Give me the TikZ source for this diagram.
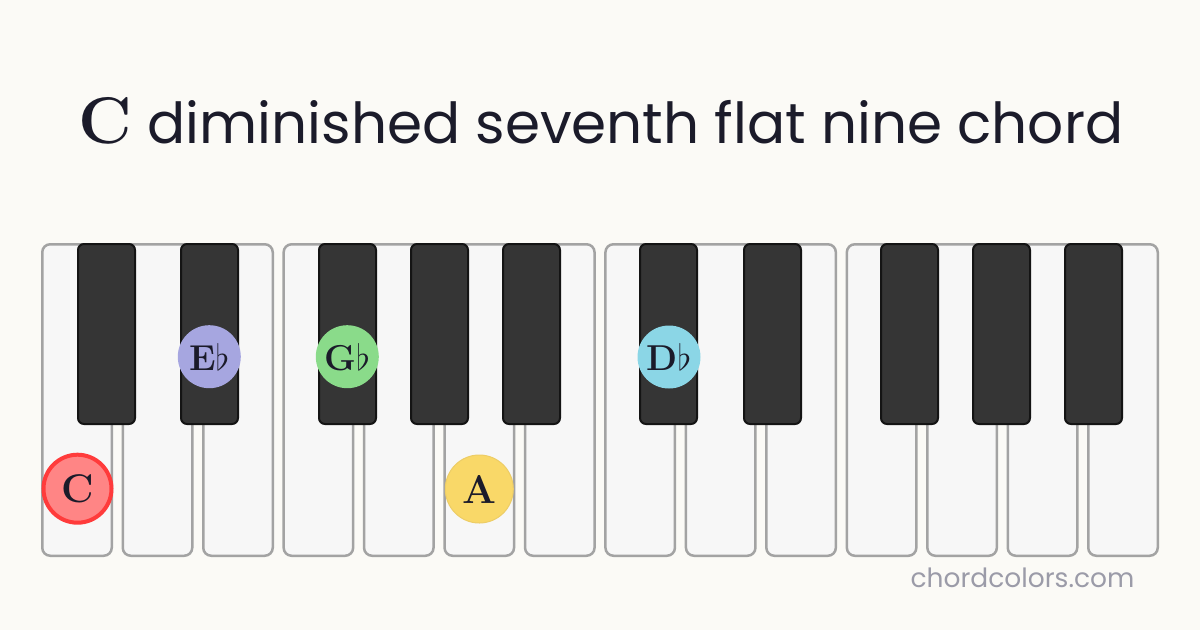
\documentclass[tikz,border=0pt]{standalone}
\usepackage{graphicx}
\usepackage{fontspec}
\newfontfamily\titlefont{Poppins}
\definecolor{bg}{HTML}{FBFAF6}
\definecolor{ink}{HTML}{1B1B2A}
\definecolor{keygray}{HTML}{A3A3A3}
\definecolor{keywhite}{HTML}{F7F7F7}
\definecolor{keyblack}{HTML}{353535}
\definecolor{footgray}{HTML}{9B9BA8}
\definecolor{rootfill}{HTML}{FF8585}
\definecolor{rootline}{HTML}{FF3B3B}
\definecolor{thirdfill}{HTML}{A6A6E0}
\definecolor{fifthfill}{HTML}{8ADB8A}
\definecolor{sevfill}{HTML}{F9D868}
\definecolor{sevline}{HTML}{EDCD66}
\definecolor{ninefill}{HTML}{8BD6E6}
\tikzset{
  whitekey/.style={draw=keygray, fill=keywhite, line width=2.5pt, rounded corners=8pt,
    minimum width=69.5pt, minimum height=311.5pt, inner sep=0pt},
  blackkey/.style={draw=black!92, fill=keyblack, line width=2pt, rounded corners=6pt,
    minimum width=57pt, minimum height=180pt, inner sep=0pt},
  note/.style={circle, inner sep=0pt, text=ink, font=\bfseries\fontsize{36}{36}\selectfont},
  bignote/.style={note, font=\bfseries\fontsize{40}{40}\selectfont}
}
\newcommand{\fl}{\scalebox{1.45}{$\flat$}}
\newcommand{\whitekey}[2]{\node[whitekey] (#1) at (#2,400) {};}
\newcommand{\blackkey}[2]{\node[blackkey] (#1) at (#2,334) {};}
\newcommand{\note}[6]{\node[note, minimum size=#4pt, #5] (#1) at (#2,#3) {#6};}

\begin{document}
\begin{tikzpicture}[x=1pt,y=-1pt]
    \fill[bg] (0,0) rectangle (1200,630);
    \useasboundingbox (0,0) rectangle (1200,630);
    \node[font=\titlefont\fontsize{56.5}{70}\selectfont, text=ink, anchor=base] (title) at (601,143)
      {{\rmfamily\bfseries\fontsize{66}{72}\selectfont C} diminished seventh flat nine chord};
    \whitekey{C1}{77}      \whitekey{D1}{157.5}   \whitekey{E1}{238}
    \whitekey{F1}{318.4}   \whitekey{G1}{398.8}   \whitekey{A1}{479.3}
    \whitekey{B1}{559.8}   \whitekey{C2}{640.2}   \whitekey{D2}{720.7}
    \whitekey{E2}{801.1}   \whitekey{F2}{881.6}   \whitekey{G2}{962.1}
    \whitekey{A2}{1042.5}  \whitekey{B2}{1123}
    \blackkey{Cs1}{106.5}  \blackkey{Ds1}{209.5}
    \blackkey{Fs1}{347.5}  \blackkey{Gs1}{439.5}  \blackkey{As1}{531.5}
    \blackkey{Cs2}{668.5}  \blackkey{Ds2}{772.5}
    \blackkey{Fs2}{909.5}  \blackkey{Gs2}{1001.5} \blackkey{As2}{1093.5}
    \note{nC}{77.5}{488.7}{68}{bignote, fill=rootfill, draw=rootline, line width=4pt}{C}
    \note{nEb}{209.3}{356.7}{63}{fill=thirdfill}{E\fl}
    \note{nGb}{347.3}{356.7}{63}{fill=fifthfill}{G\fl}
    \note{nA}{479.3}{489}{68}{bignote, fill=sevfill, draw=sevline, line width=1pt}{A}
    \note{nDb}{669}{357}{63}{fill=ninefill}{D\fl}
    \node[font=\titlefont\fontsize{26.5}{30}\selectfont, text=footgray, anchor=base east] (site)
      at (1138,587) {chordcolors.com};
\end{tikzpicture}
\end{document}
